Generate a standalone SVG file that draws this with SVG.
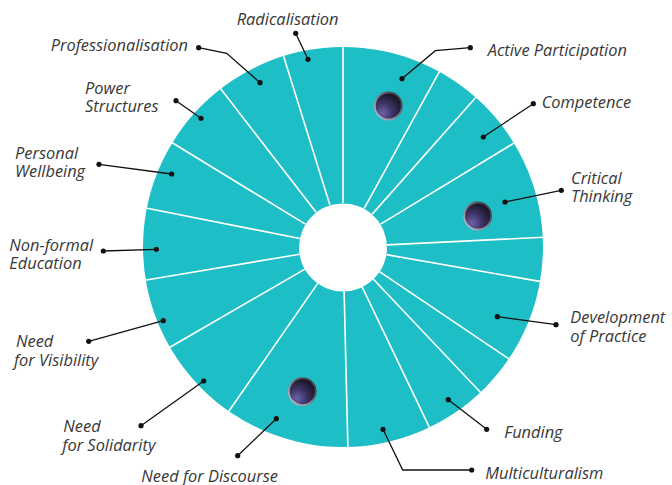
<svg xmlns="http://www.w3.org/2000/svg" width="672" height="485" viewBox="0 0 672 485">
<style>
.lbl{font-family:"Open Sans","Liberation Sans",sans-serif;font-style:italic;font-size:16.4px;fill:#383838}
.sep{stroke:#fff;stroke-width:1.6}
.lead{fill:none;stroke:#111;stroke-width:1.3}
.dot{fill:#111}
.ball{fill:url(#bg);stroke:url(#rim);stroke-width:1.8}
</style>
<defs>
<radialGradient id="bg" cx="0.3" cy="0.75" r="0.8">
<stop offset="0" stop-color="#6f62ab"/>
<stop offset="0.45" stop-color="#3b3363"/>
<stop offset="1" stop-color="#15131d"/>
</radialGradient>
<linearGradient id="rim" x1="0" y1="1" x2="1" y2="0">
<stop offset="0" stop-color="#c8c6d0"/>
<stop offset="0.6" stop-color="#6a6878"/>
<stop offset="1" stop-color="#2a2830"/>
</linearGradient>
</defs>
<g id="wheel">
<circle cx="343" cy="247" r="200" fill="#1ebec6"/>
<g class="sep">
<line x1="343" y1="203" x2="343" y2="45"/>
<line x1="364.2" y1="208.4" x2="439.8" y2="70.9"/>
<line x1="372.2" y1="214.1" x2="476.4" y2="96.7"/>
<line x1="380.6" y1="224.1" x2="514.8" y2="142.6"/>
<line x1="386.9" y1="244.9" x2="543.8" y2="237.2"/>
<line x1="386.3" y1="254.6" x2="541.0" y2="281.6"/>
<line x1="379.5" y1="271.6" x2="509.6" y2="359.4"/>
<line x1="373.2" y1="279.0" x2="481.1" y2="393.0"/>
<line x1="362.0" y1="286.7" x2="429.9" y2="428.3"/>
<line x1="344.1" y1="291.0" x2="347.9" y2="447.9"/>
<line x1="317.9" y1="283.1" x2="228.3" y2="412.0"/>
<line x1="304.9" y1="269.1" x2="169.1" y2="347.8"/>
<line x1="299.6" y1="254.3" x2="144.8" y2="280.2"/>
<line x1="299.8" y1="238.5" x2="145.8" y2="208.0"/>
<line x1="305.4" y1="224.1" x2="171.4" y2="142.3"/>
<line x1="316.1" y1="212.2" x2="220.1" y2="88.0"/>
<line x1="329.9" y1="205.0" x2="283.2" y2="55.1"/>
</g>
<circle cx="343" cy="247.5" r="44" fill="#fff"/>
</g>
<g id="balls">
<circle class="ball" cx="388.3" cy="106" r="13.5"/>
<circle class="ball" cx="477.7" cy="216" r="13.5"/>
<circle class="ball" cx="302.3" cy="391.7" r="13.5"/>
</g>
<g id="connectors">
<polyline class="lead" points="295.7,33.3 308,59.3"/>
<polyline class="lead" points="198.7,47.7 226.7,53.3 260,82.7"/>
<polyline class="lead" points="176,100.7 201,118.3"/>
<polyline class="lead" points="99,164.3 171.7,174"/>
<polyline class="lead" points="470.3,47.7 435.3,50.7 402,78.7"/>
<polyline class="lead" points="533.3,103.7 483.3,137"/>
<polyline class="lead" points="561.3,190.3 505,202"/>
<polyline class="lead" points="103.3,251 156.3,249.3"/>
<polyline class="lead" points="88.7,341.3 163.3,320.7"/>
<polyline class="lead" points="141,425.7 203.7,381"/>
<polyline class="lead" points="237.7,455.7 276.3,418.7"/>
<polyline class="lead" points="556,324.7 497.3,316.7"/>
<polyline class="lead" points="486.7,429.3 448.3,399.7"/>
<polyline class="lead" points="471.7,470 402.7,470 383,429.3"/>
<g class="dot">
<circle cx="295.7" cy="33.3" r="2.6"/><circle cx="308" cy="59.3" r="2.6"/>
<circle cx="198.7" cy="47.7" r="2.6"/><circle cx="260" cy="82.7" r="2.6"/>
<circle cx="176" cy="100.7" r="2.6"/><circle cx="201" cy="118.3" r="2.6"/>
<circle cx="99" cy="164.3" r="2.6"/><circle cx="171.7" cy="174" r="2.6"/>
<circle cx="470.3" cy="47.7" r="2.6"/><circle cx="402" cy="78.7" r="2.6"/>
<circle cx="533.3" cy="103.7" r="2.6"/><circle cx="483.3" cy="137" r="2.6"/>
<circle cx="561.3" cy="190.3" r="2.6"/><circle cx="505" cy="202" r="2.6"/>
<circle cx="103.3" cy="251" r="2.6"/><circle cx="156.3" cy="249.3" r="2.6"/>
<circle cx="88.7" cy="341.3" r="2.6"/><circle cx="163.3" cy="320.7" r="2.6"/>
<circle cx="141" cy="425.7" r="2.6"/><circle cx="203.7" cy="381" r="2.6"/>
<circle cx="237.7" cy="455.7" r="2.6"/><circle cx="276.3" cy="418.7" r="2.6"/>
<circle cx="556" cy="324.7" r="2.6"/><circle cx="497.3" cy="316.7" r="2.6"/>
<circle cx="486.7" cy="429.3" r="2.6"/><circle cx="448.3" cy="399.7" r="2.6"/>
<circle cx="471.7" cy="470" r="2.6"/><circle cx="383" cy="429.3" r="2.6"/>
</g>
</g>
<g id="labels">
<g id="n-radicalisation"><text class="lbl" x="236.7" y="25">Radicalisation</text></g>
<g id="n-professionalisation"><text class="lbl" x="50.7" y="51">Professionalisation</text></g>
<g id="n-power"><text class="lbl" x="85" y="94.3">Power</text><text class="lbl" x="85" y="111.7">Structures</text></g>
<g id="n-wellbeing"><text class="lbl" x="15" y="159.3">Personal</text><text class="lbl" x="15" y="176.7">Wellbeing</text></g>
<g id="n-active"><text class="lbl" x="487.7" y="55.7">Active Participation</text></g>
<g id="n-competence"><text class="lbl" x="541.7" y="108.3">Competence</text></g>
<g id="n-critical"><text class="lbl" x="571" y="184.3">Critical</text><text class="lbl" x="571" y="202.3">Thinking</text></g>
<g id="n-nonformal"><text class="lbl" x="9.3" y="251">Non-formal</text><text class="lbl" x="9.3" y="269.3">Education</text></g>
<g id="n-visibility"><text class="lbl" x="16" y="346.7">Need</text><text class="lbl" x="14" y="365.7">for Visibility</text></g>
<g id="n-solidarity"><text class="lbl" x="63.3" y="431.7">Need</text><text class="lbl" x="62.3" y="450.7">for Solidarity</text></g>
<g id="n-discourse"><text class="lbl" x="141.3" y="482">Need for Discourse</text></g>
<g id="n-development"><text class="lbl" x="570.3" y="323.3">Development</text><text class="lbl" x="570.3" y="341.7">of Practice</text></g>
<g id="n-funding"><text class="lbl" x="504.3" y="438.3">Funding</text></g>
<g id="n-multi"><text class="lbl" x="485.3" y="479.3">Multiculturalism</text></g>
</g>
</svg>
